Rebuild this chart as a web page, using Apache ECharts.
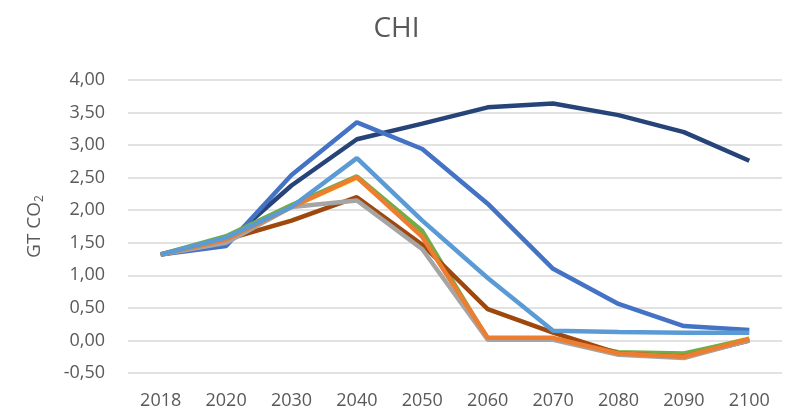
<!DOCTYPE html>
<html lang="en">
<head>
<meta charset="UTF-8">
<title>CHI</title>
<script src="https://cdn.jsdelivr.net/npm/echarts@6/dist/echarts.min.js"></script>
</head>
<body style="margin:0">
<div id="main" style="width:793px;height:417px"></div>
<script>
    // data
    var years = ['2018', '2020', '2030', '2040', '2050', '2060', '2070', '2080', '2090', '2100'];
    var darkNavy = [1.32, 1.50, 2.38, 3.09, 3.33, 3.58, 3.64, 3.46, 3.20, 2.76];
    var blue = [1.32, 1.45, 2.54, 3.35, 2.94, 2.10, 1.10, 0.56, 0.22, 0.16];
    var yellow = [1.32, 1.57, 2.05, 2.50, 1.62, 0.03, 0.03, -0.19, -0.22, 0.03];
    var green = [1.32, 1.60, 2.08, 2.52, 1.68, 0.02, 0.02, -0.18, -0.20, 0.02];
    var brown = [1.32, 1.55, 1.84, 2.20, 1.47, 0.48, 0.12, -0.20, -0.25, 0.00];
    var gray = [1.32, 1.50, 2.05, 2.15, 1.40, 0.01, 0.01, -0.22, -0.27, 0.00];
    var orange = [1.32, 1.55, 2.05, 2.51, 1.59, 0.04, 0.04, -0.20, -0.25, 0.02];
    var lightBlue = [1.32, 1.58, 2.05, 2.80, 1.84, 0.96, 0.15, 0.13, 0.12, 0.12];

    var chart = echarts.init(document.getElementById('main'));
    var font = 'Open Sans';

    function line(name, data, color) {
        return {
            name: name,
            type: 'line',
            data: data,
            symbol: 'none',
            lineStyle: { color: color, width: 4.5 },
            itemStyle: { color: color }
        };
    }

    var option = {
        backgroundColor: '#fff',
        animation: false,
        title: {
            text: 'CHI',
            left: 'center',
            top: 10,
            textStyle: { color: '#595959', fontSize: 28, fontWeight: 'normal', fontFamily: font }
        },
        grid: { left: 128, right: 11, top: 80, bottom: 44 },
        xAxis: {
            type: 'category',
            data: years,
            boundaryGap: true,
            axisLine: { show: false },
            axisTick: { show: false },
            axisLabel: { color: '#595959', fontSize: 18, fontFamily: font, margin: 19 }
        },
        yAxis: {
            type: 'value',
            min: -0.5,
            max: 4,
            interval: 0.5,
            name: '{a|GT CO}{s|2}',
            nameLocation: 'middle',
            nameGap: 82,
            nameTextStyle: {
                rich: {
                    a: { color: '#595959', fontSize: 19, fontFamily: font },
                    s: { color: '#595959', fontSize: 12, fontFamily: font, verticalAlign: 'bottom', padding: [10, 0, 0, 0] }
                }
            },
            axisLabel: {
                color: '#595959', fontSize: 18, fontFamily: font, margin: 23,
                formatter: function (v) { return v.toFixed(2).replace('.', ','); }
            },
            splitLine: { lineStyle: { color: '#D9D9D9', width: 1.5 } }
        },
        series: [
            line('s1', darkNavy, '#264478'),
            line('s2', blue, '#4472C4'),
            line('s3', yellow, '#FFC000'),
            line('s4', green, '#70AD47'),
            line('s5', brown, '#9E480E'),
            line('s6', gray, '#A5A5A5'),
            line('s7', orange, '#ED7D31'),
            line('s8', lightBlue, '#5B9BD5')
        ]
    };
    chart.setOption(option);
</script>
</body>
</html>
